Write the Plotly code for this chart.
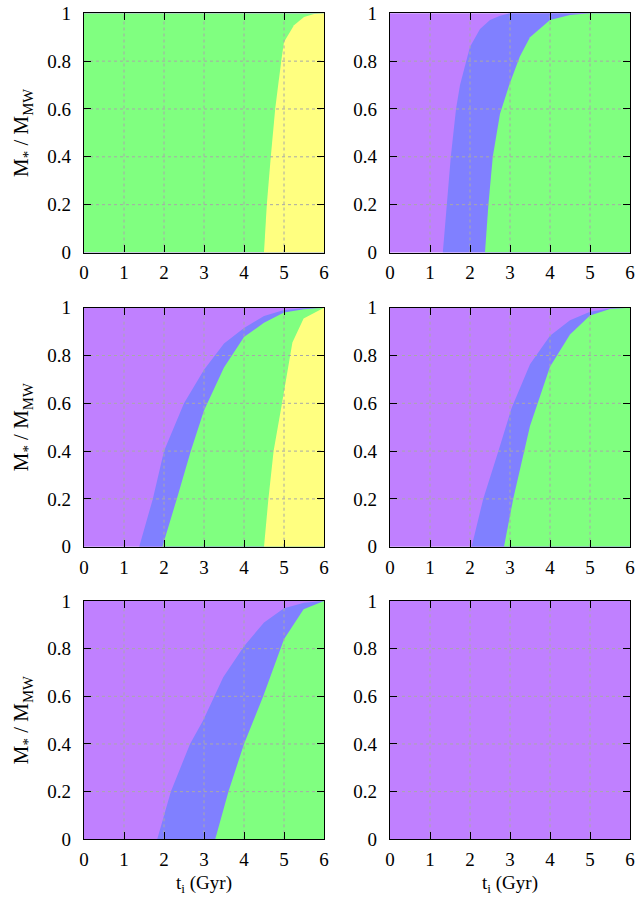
import plotly.graph_objects as go

# ---------------- data ----------------
X_TICKS = [0, 1, 2, 3, 4, 5, 6]
X_TICK_TEXT = ["0", "1", "2", "3", "4", "5", "6"]
Y_TICKS = [0, 0.2, 0.4, 0.6, 0.8, 1.0]
Y_TICK_TEXT = ["0", "0.2", "0.4", "0.6", "0.8", "1"]
X_MAX = 6.0

PURPLE = "#c080ff"
BLUE = "#8080ff"
GREEN = "#80ff80"
YELLOW = "#ffff80"

# boundary curves (t in Gyr, cumulative M*/M_MW); region right of each curve gets its colour
p1_green_t = [0.0, 0.0, 6.0]
p1_green_m = [0.0, 1.0, 1.0]
p1_yellow_t = [4.5, 4.57, 4.67, 4.78, 4.93, 5.0, 5.25, 5.5, 5.75, 6.0]
p1_yellow_m = [0.0, 0.2, 0.4, 0.6, 0.8, 0.88, 0.95, 0.985, 0.997, 1.0]

p2_blue_t = [1.32, 1.42, 1.52, 1.65, 1.75, 2.0, 2.25, 2.5, 2.75, 3.0, 6.0]
p2_blue_m = [0.0, 0.2, 0.4, 0.6, 0.70, 0.86, 0.934, 0.972, 0.99, 1.0, 1.0]
p2_green_t = [2.375, 2.46, 2.57, 2.75, 3.0, 3.25, 3.5, 4.0, 4.5, 5.0, 6.0]
p2_green_m = [0.0, 0.2, 0.4, 0.58, 0.71, 0.82, 0.90, 0.972, 0.993, 1.0, 1.0]

p3_blue_t = [1.38, 1.72, 2.0, 2.5, 3.0, 3.5, 4.0, 4.5, 5.0, 5.5, 6.0]
p3_blue_m = [0.0, 0.2, 0.4, 0.6, 0.74, 0.85, 0.915, 0.965, 0.99, 0.998, 1.0]
p3_green_t = [1.96, 2.32, 2.67, 3.0, 3.5, 4.0, 4.5, 5.0, 5.5, 6.0]
p3_green_m = [0.0, 0.2, 0.4, 0.57, 0.75, 0.877, 0.937, 0.98, 0.993, 1.0]
p3_yellow_t = [4.5, 4.61, 4.74, 4.95, 5.21, 5.49, 6.0]
p3_yellow_m = [0.0, 0.2, 0.4, 0.6, 0.854, 0.955, 1.0]

p4_blue_t = [2.04, 2.33, 2.71, 3.04, 3.5, 4.0, 4.5, 5.0, 5.5, 6.0]
p4_blue_m = [0.0, 0.2, 0.4, 0.58, 0.763, 0.883, 0.948, 0.983, 0.997, 1.0]
p4_green_t = [2.85, 3.08, 3.5, 4.0, 4.5, 5.0, 5.5, 6.0]
p4_green_m = [0.0, 0.2, 0.505, 0.753, 0.888, 0.967, 0.995, 1.0]

p5_blue_t = [1.83, 2.17, 2.65, 2.98, 3.48, 4.0, 4.5, 5.0, 5.5, 6.0]
p5_blue_m = [0.0, 0.2, 0.4, 0.5, 0.68, 0.81, 0.91, 0.97, 0.993, 1.0]
p5_green_t = [3.28, 3.61, 4.0, 4.48, 5.0, 5.49, 6.0]
p5_green_m = [0.0, 0.2, 0.4, 0.6, 0.84, 0.965, 1.0]

panels = [
    [(p1_green_t, p1_green_m, GREEN), (p1_yellow_t, p1_yellow_m, YELLOW)],
    [(p2_blue_t, p2_blue_m, BLUE), (p2_green_t, p2_green_m, GREEN)],
    [(p3_blue_t, p3_blue_m, BLUE), (p3_green_t, p3_green_m, GREEN), (p3_yellow_t, p3_yellow_m, YELLOW)],
    [(p4_blue_t, p4_blue_m, BLUE), (p4_green_t, p4_green_m, GREEN)],
    [(p5_blue_t, p5_blue_m, BLUE), (p5_green_t, p5_green_m, GREEN)],
    [],
]

# ---------------- layout ----------------
W, H = 636, 899
col_px = [(84, 324), (390, 630)]
row_px = [(13.3, 252.5), (307.7, 546.7), (601.0, 839.3)]

FONT = "Liberation Serif"
FS = 19
FS_YT = 21
fig = go.Figure()
layout = dict(
    width=W, height=H,
    margin=dict(l=0, r=0, t=0, b=0, autoexpand=False),
    paper_bgcolor="white",
    plot_bgcolor=PURPLE,
    showlegend=False,
    font=dict(family=FONT, size=FS, color="black"),
)

grid_style = dict(color="#a8a8a8", width=1, dash="3px,3px")

for i in range(6):
    r, c = divmod(i, 2)
    n = i + 1
    xa = "x" if n == 1 else f"x{n}"
    ya = "y" if n == 1 else f"y{n}"
    for t, m, col in panels[i]:
        xs = list(t) + [X_MAX]
        ys = list(m) + [0.0]
        fig.add_trace(go.Scatter(x=xs, y=ys, fill="toself", fillcolor=col,
                                 mode="none", xaxis=xa, yaxis=ya, hoverinfo="skip"))
    # grid lines drawn above fills
    gx, gy = [], []
    for xv in X_TICKS[1:-1]:
        gx += [xv, xv, None]
        gy += [Y_TICKS[0], Y_TICKS[-1], None]
    for yv in Y_TICKS[1:-1]:
        gx += [X_TICKS[0], X_TICKS[-1], None]
        gy += [yv, yv, None]
    fig.add_trace(go.Scatter(x=gx, y=gy, mode="lines", line=grid_style,
                             xaxis=xa, yaxis=ya, hoverinfo="skip"))

    x0, x1 = col_px[c]
    yt, yb = row_px[r]
    axcommon = dict(showline=True, linecolor="black", linewidth=1.3, mirror="ticks",
                    ticks="inside", ticklen=7, tickwidth=1.3, tickcolor="black",
                    showgrid=False, zeroline=False, layer="above traces",
                    automargin=False, ticklabeloverflow="allow",
                    tickfont=dict(family=FONT, size=FS, color="black"))
    layout["xaxis" if n == 1 else f"xaxis{n}"] = dict(
        domain=[x0 / W, x1 / W], anchor=ya, range=[X_TICKS[0], X_TICKS[-1]],
        tickvals=X_TICKS, ticktext=X_TICK_TEXT, ticklabelstandoff=3,
        title=dict(text="t<sub>i</sub> (Gyr)" if r == 2 else "", standoff=6,
                   font=dict(family=FONT, size=FS, color="black")),
        **axcommon)
    layout["yaxis" if n == 1 else f"yaxis{n}"] = dict(
        domain=[1 - yb / H, 1 - yt / H], anchor=xa, range=[Y_TICKS[0], Y_TICKS[-1]],
        tickvals=Y_TICKS, ticktext=Y_TICK_TEXT, ticklabelstandoff=8,
        title=dict(text="M<sub>*</sub> / M<sub>MW</sub>" if c == 0 else "", standoff=12,
                   font=dict(family=FONT, size=FS_YT, color="black")),
        **axcommon)

fig.update_layout(**layout)
fig.write_html("out.html", config={"displayModeBar": False},
               post_script="document.body.style.margin='0';document.body.style.overflow='hidden';")
